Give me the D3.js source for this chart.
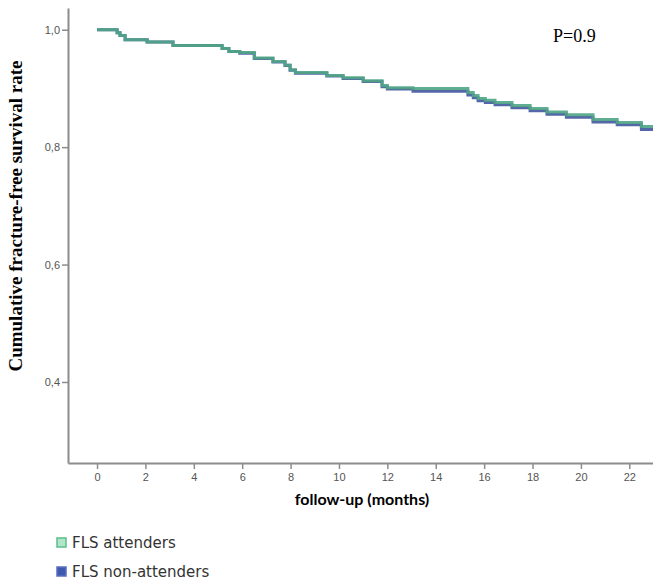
<!DOCTYPE html>
<html>
<head>
<meta charset="utf-8">
<script src="https://cdn.jsdelivr.net/npm/d3@7"></script>
<style>
  body { margin: 0; background: #fff; }
  svg { display: block; }
  .axis path, .axis line { stroke: #8c8c8c; }
  .axis text { fill: #555; font-family: "Liberation Sans", Arial, sans-serif; font-size: 11px; }
</style>
</head>
<body>
<div id="chart"></div>
<script>
// Kaplan-Meier style fracture-free survival, two groups
const months = [0, 0.83, 0.95, 1.16, 2.07, 3.14, 5.17, 5.45, 5.9, 6.5, 7.27, 7.77, 7.98, 8.2, 9.5, 10.17,
    11.0, 11.78, 12.0, 13.06, 15.33, 15.55, 15.75, 16.05, 16.45, 17.15, 17.9, 18.6, 19.4, 20.5, 21.5, 22.5, 23.0];
const attenders = [1.0, 0.995, 0.990, 0.983, 0.979, 0.973, 0.968, 0.963, 0.961, 0.952, 0.946, 0.940, 0.932, 0.927, 0.922, 0.918,
    0.913, 0.905, 0.901, 0.900, 0.893, 0.888, 0.883, 0.880, 0.876, 0.871, 0.866, 0.860, 0.855, 0.847, 0.842, 0.835, 0.835];
const nonAttenders = [1.0, 0.995, 0.990, 0.983, 0.979, 0.973, 0.968, 0.963, 0.960, 0.951, 0.945, 0.939, 0.931, 0.926, 0.921, 0.917,
    0.912, 0.903, 0.899, 0.895, 0.889, 0.884, 0.879, 0.876, 0.872, 0.867, 0.862, 0.856, 0.851, 0.843, 0.838, 0.830, 0.830];

const xTicks = [0, 2, 4, 6, 8, 10, 12, 14, 16, 18, 20, 22];
const yTicks = [0.4, 0.6, 0.8, 1.0];
const legendLabels = ['FLS attenders', 'FLS non-attenders'];

const W = 653, H = 585;
const svg = d3.select('#chart').append('svg').attr('width', W).attr('height', H);

const x = d3.scaleLinear().domain([-1.2, 22.98]).range([68, 653]);
const y = d3.scaleLinear().domain([0.262, 1.037]).range([463, 8]);

// Axes
svg.append('g')
    .attr('class', 'axis')
    .attr('transform', 'translate(0,463)')
    .call(d3.axisBottom(x).tickValues(xTicks).tickSize(6).tickSizeOuter(0).tickPadding(4))
    .call(g => g.select('.domain').attr('stroke-width', 2))
    .call(g => g.selectAll('.tick line').attr('stroke', '#666').attr('stroke-width', 1.5));

svg.append('g')
    .attr('class', 'axis')
    .attr('transform', 'translate(68,0)')
    .call(d3.axisLeft(y).tickValues(yTicks).tickSize(6).tickSizeOuter(0).tickPadding(2)
        .tickFormat(d => d3.format('.1f')(d).replace('.', ',')))
    .call(g => g.select('.domain').attr('stroke-width', 2))
    .call(g => g.selectAll('.tick line').attr('stroke', '#666').attr('stroke-width', 1.5));

// Survival curves
const line = d3.line().curve(d3.curveStepAfter);
const toPts = vals => months.map((m, i) => [x(m), y(vals[i])]);

svg.append('path')
    .attr('d', line(toPts(nonAttenders)))
    .attr('fill', 'none')
    .attr('stroke', '#5467a8')
    .attr('stroke-width', 3);

svg.append('path')
    .attr('d', line(toPts(attenders)))
    .attr('fill', 'none')
    .attr('stroke', '#4fa585')
    .attr('stroke-width', 3)
    .attr('opacity', 0.9);

// Labels
svg.append('text')
    .attr('transform', 'translate(22,216) rotate(-90)')
    .attr('text-anchor', 'middle')
    .style('font-family', '"Liberation Serif", "Times New Roman", serif')
    .style('font-weight', 'bold')
    .style('font-size', '19px')
    .text('Cumulative fracture-free survival rate');

svg.append('text')
    .attr('x', 553)
    .attr('y', 42)
    .style('font-family', '"Liberation Serif", "Times New Roman", serif')
    .style('font-size', '18px')
    .text('P=0.9');

svg.append('text')
    .attr('x', 362)
    .attr('y', 505)
    .attr('text-anchor', 'middle')
    .style('font-family', 'Lato, "Open Sans", sans-serif')
    .style('font-weight', 'bold')
    .style('font-size', '16px')
    .text('follow-up (months)');

// Legend
const legendColors = [{ fill: '#b2e6cb', stroke: '#5cbf8a' }, { fill: '#3f58b0', stroke: '#5a6fc0' }];
const legend = svg.selectAll('.legend-item')
    .data(legendLabels)
    .enter()
    .append('g')
    .attr('transform', (d, i) => `translate(57,${538 + i * 29})`);

legend.append('rect')
    .attr('width', 9)
    .attr('height', 9)
    .attr('fill', (d, i) => legendColors[i].fill)
    .attr('stroke', (d, i) => legendColors[i].stroke)
    .attr('stroke-width', 1.5);

legend.append('text')
    .attr('x', 15)
    .attr('y', 10)
    .style('font-family', '"DejaVu Sans", sans-serif')
    .style('font-size', '15px')
    .style('fill', '#333')
    .text(d => d);
</script>
</body>
</html>
